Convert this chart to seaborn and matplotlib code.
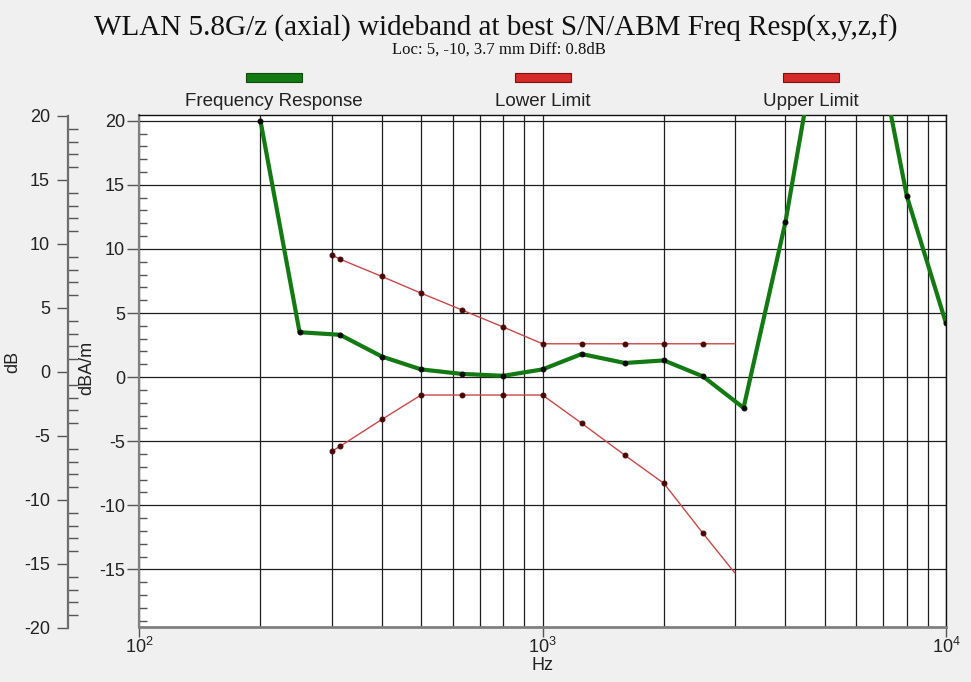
import numpy as np
import pandas as pd
import matplotlib
matplotlib.use("Agg")
import matplotlib.pyplot as plt
import seaborn as sns
from matplotlib.ticker import MultipleLocator, FixedLocator, NullFormatter, LogFormatterSciNotation
from matplotlib.patches import Rectangle

# Measured frequency response (1/3-octave bands)
resp_hz = [200, 250, 315, 400, 500, 630, 800, 1000, 1250, 1600,
           2000, 2500, 3150, 4000, 5000, 6300, 8000, 10000]
resp_db = [20.0, 3.5, 3.3, 1.6, 0.6, 0.25, 0.1, 0.6, 1.8, 1.1,
           1.3, 0.05, -2.4, 12.1, 29.6, 30.8, 14.1, 4.2]

# Mask limits
limit_hz = [300, 315, 400, 500, 630, 800, 1000, 1250, 1600, 2000, 2500, 3000]
upper_db = [9.55, 9.2, 7.85, 6.55, 5.25, 3.9, 2.6, 2.6, 2.6, 2.6, 2.6, 2.6]
lower_db = [-5.8, -5.4, -3.3, -1.4, -1.4, -1.4, -1.4, -3.6, -6.1, -8.3, -12.2, -15.3]

legend_labels = ["Frequency Response", "Lower Limit", "Upper Limit"]
x_ticks = [100, 1000, 10000]

resp = pd.DataFrame({"Hz": resp_hz, "dB": resp_db})
limits = pd.DataFrame({"Hz": limit_hz, "upper": upper_db, "lower": lower_db})

sns.set_style("white")
plt.rcParams["font.family"] = ["Liberation Sans", "DejaVu Sans"]
plt.rcParams["axes.unicode_minus"] = False

W, H = 971, 682
fig = plt.figure(figsize=(W / 100, H / 100), dpi=100, facecolor="#f0f0f0")

ax = fig.add_axes([139 / W, 1 - 627 / H, (946 - 139) / W, (627 - 115) / H])
ax.set_facecolor("white")
ax.set_xscale("log")
ax.set_xlim(100, 10000)
ax.set_ylim(-19.5, 20.45)

GREEN = "#137a13"
RED = "#c84848"
grid_kw = dict(color="#1e1e1e", linewidth=0.9)

ax.xaxis.set_major_locator(FixedLocator(x_ticks))
ax.xaxis.set_minor_locator(FixedLocator([k * d for d in (100, 1000) for k in range(2, 10)]))
ax.xaxis.set_major_formatter(LogFormatterSciNotation())
ax.xaxis.set_minor_formatter(NullFormatter())
ax.yaxis.set_major_locator(MultipleLocator(5))
ax.yaxis.set_minor_locator(MultipleLocator(1))
ax.grid(which="both", axis="x", **grid_kw)
ax.grid(which="major", axis="y", **grid_kw)
ax.set_axisbelow(True)

sns.lineplot(data=limits, x="Hz", y="upper", ax=ax, color=RED, linewidth=1.0,
             marker="o", markersize=3.5, markerfacecolor="#4a0606",
             markeredgecolor="#4a0606", markevery=list(range(len(limit_hz) - 1)),
             sort=False, zorder=3)
sns.lineplot(data=limits, x="Hz", y="lower", ax=ax, color=RED, linewidth=1.0,
             marker="o", markersize=3.5, markerfacecolor="#4a0606",
             markeredgecolor="#4a0606", markevery=list(range(len(limit_hz) - 1)),
             sort=False, zorder=3)
sns.lineplot(data=resp, x="Hz", y="dB", ax=ax, color=GREEN, linewidth=3.0,
             marker="o", markersize=3.5, markerfacecolor="#0a0a0a",
             markeredgecolor="#0a0a0a", sort=False, zorder=4)

ax.set_ylabel("")
ax.set_xlabel("Hz", fontsize=13, color="#222222", labelpad=0)

ax.tick_params(axis="y", which="major", direction="out", length=9, width=1,
               color="#555555", labelsize=13, labelcolor="#222222", pad=1, left=True)
ax.tick_params(axis="y", which="minor", direction="in", length=6, width=1,
               color="#555555", left=True)
ax.tick_params(axis="x", which="major", direction="out", length=7, width=1,
               color="#555555", labelsize=13, labelcolor="#222222", pad=0, bottom=True)
ax.tick_params(axis="x", which="minor", length=0)

for side in ("left", "bottom"):
    ax.spines[side].set_color("#808080")
ax.spines["left"].set_linewidth(1.6)
ax.spines["bottom"].set_linewidth(2.0)
for side in ("top", "right"):
    ax.spines[side].set_color("#111111")
    ax.spines[side].set_linewidth(1.0)
    ax.spines[side].set_visible(True)

# Secondary dB scale on the far left
ax2 = fig.add_axes([68 / W, 1 - 628 / H, 0.0005, (628 - 116) / H])
ax2.set_facecolor("none")
ax2.set_ylim(-20, 20)
ax2.set_xticks([])
ax2.yaxis.set_major_locator(MultipleLocator(5))
ax2.yaxis.set_minor_locator(MultipleLocator(1))
for side in ("top", "right", "bottom"):
    ax2.spines[side].set_visible(False)
ax2.spines["left"].set_color("#6e6e6e")
ax2.spines["left"].set_linewidth(1.6)
ax2.tick_params(axis="y", which="major", direction="out", length=8, width=1,
                color="#555555", labelsize=13, labelcolor="#222222", pad=5, left=True)
ax2.tick_params(axis="y", which="minor", direction="in", length=7, width=1,
                color="#555555", left=True)

fig.text(13 / W, 1 - 362 / H, "dB", rotation=90, ha="center", va="center",
         fontsize=13, color="#222222")
fig.text(87 / W, 1 - 368 / H, "dBA/m", rotation=90, ha="center", va="center",
         fontsize=13, color="#222222")

# Titles
fig.text(496 / W, 1 - 28 / H,
         "WLAN 5.8G/z (axial) wideband at best S/N/ABM Freq Resp(x,y,z,f)",
         ha="center", va="center", fontsize=21, family=["Liberation Serif"],
         color="#111111")
fig.text(499 / W, 1 - 50 / H, "Loc: 5, -10, 3.7 mm Diff: 0.8dB",
         ha="center", va="center", fontsize=12, family=["Liberation Serif"],
         color="#111111")

# Legend: colour swatch above each label
swatches = [(274, GREEN, "#0b4d0b"), (542.5, "#d42a2a", "#7a1010"), (811, "#d42a2a", "#7a1010")]
for (cx, fc, ec), label in zip(swatches, legend_labels):
    fig.add_artist(Rectangle(((cx - 28) / W, 1 - 82 / H), 56 / W, 9 / H,
                             transform=fig.transFigure, facecolor=fc,
                             edgecolor=ec, linewidth=0.8))
    fig.text(cx / W, 1 - 101 / H, label, ha="center", va="center",
             fontsize=13.5, color="#222222")

fig.savefig("out.png", dpi=100, facecolor=fig.get_facecolor())
